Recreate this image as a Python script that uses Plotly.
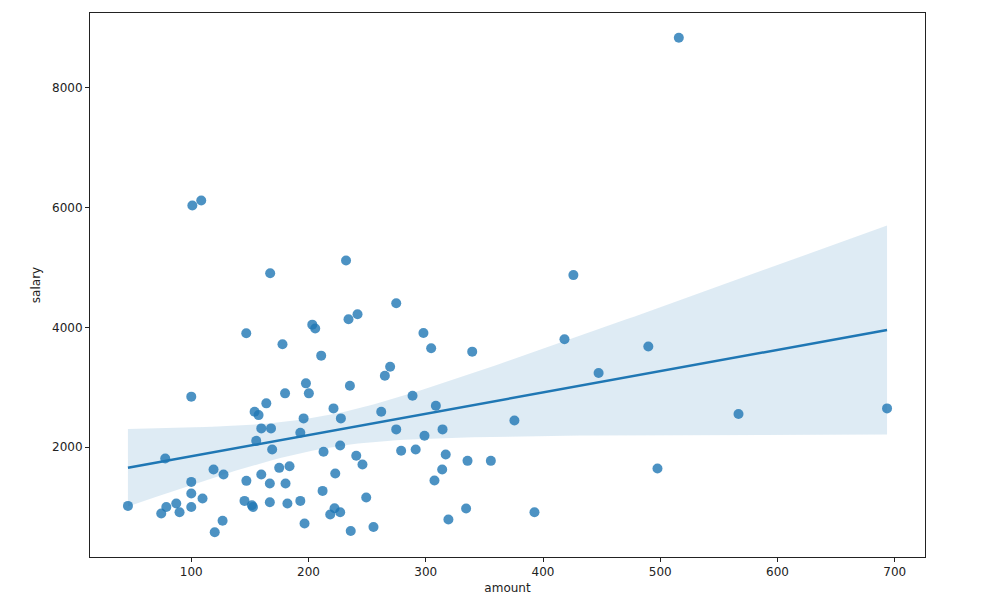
import numpy as np
import plotly.graph_objects as go

amount = [46, 74.4, 78.7, 77.8, 87.2, 90, 100, 100, 100, 100, 100.9, 108.5, 109.6,
          119, 120, 126.7, 127.5, 145.4, 146.9, 147, 151.7, 152.6, 154, 155.4, 157.4,
          159.7, 159.7, 164, 167, 167, 167.3, 168, 169, 175, 177.8, 180, 180.4, 182,
          183.8, 193, 193, 195.8, 196.6, 197.8, 200.3, 203.2, 205.7, 210.8, 212, 212.8,
          218.5, 221.3, 222.2, 222.8, 227, 227, 227.6, 232, 234.1, 235.3, 236, 240.7,
          241.8, 246, 249.2, 255.4, 262, 265.1, 269.6, 274.8, 274.8, 279, 288.7, 291.4,
          298, 298.9, 304.6, 307.4, 308.6, 314, 314.3, 317, 319.3, 334.4, 335.6, 339.6,
          355.5, 375.6, 392.7, 418.3, 425.9, 447.4, 489.8, 497.6, 515.8, 566.7, 693.4]
salary = [1019, 891, 1002, 1811, 1058, 913, 2843, 1420, 1226, 1002, 6034, 6118, 1142,
          1627, 579, 770, 1543, 1103, 3901, 1437, 1030, 1002, 2590, 2105, 2535,
          2313, 1543, 2731, 1392, 1080, 4904, 2313, 1961, 1654, 3717, 2898, 1392, 1058,
          1682, 2240, 1103, 2480, 725, 3065, 2898, 4045, 3980, 3527, 1270, 1922,
          875, 2647, 980, 1560, 2028, 913, 2480, 5115, 4135, 3025, 600, 1855,
          4218, 1710, 1159, 667, 2590, 3193, 3343, 4402, 2296, 1939, 2859, 1961,
          3906, 2189, 3650, 1443, 2691, 1627, 2296, 1877, 791, 975, 1771, 3594,
          1771, 2446, 914, 3801, 4872, 3237, 3679, 1643, 8834, 2552, 2647]
x_ticks = [100, 200, 300, 400, 500, 600, 700]
y_ticks = [2000, 4000, 6000, 8000]

x = np.array(amount, dtype=float)
y = np.array(salary, dtype=float)
n = len(x)
X = np.column_stack([np.ones(n), x])
XtX_inv = np.linalg.inv(X.T @ X)
beta = XtX_inv @ X.T @ y
resid = y - X @ beta
h = np.einsum("ij,jk,ik->i", X, XtX_inv, X)
# HC3 robust covariance of the coefficients
meat = X.T @ (X * (resid ** 2 / (1 - h) ** 2)[:, None])
cov = XtX_inv @ meat @ XtX_inv
grid = np.linspace(x.min(), x.max(), 100)
G = np.column_stack([np.ones_like(grid), grid])
fit = G @ beta
se = np.sqrt(np.einsum("ij,jk,ik->i", G, cov, G))
t = 1.985
upper = fit + t * se
lower = fit - t * se

C0 = "#1f77b4"
fig = go.Figure()
fig.add_trace(go.Scatter(x=np.concatenate([grid, grid[::-1]]),
                         y=np.concatenate([upper, lower[::-1]]),
                         fill="toself", fillcolor="rgba(31,119,180,0.15)",
                         line=dict(width=0), mode="lines", hoverinfo="skip",
                         showlegend=False))
fig.add_trace(go.Scatter(x=x, y=y, mode="markers",
                         marker=dict(color=C0, opacity=0.8, size=10, line=dict(width=0)),
                         showlegend=False))
fig.add_trace(go.Scatter(x=grid, y=fit, mode="lines",
                         line=dict(color=C0, width=2.5), showlegend=False))

xspan = x.max() - x.min()
yspan = y.max() - y.min()
font = dict(family="DejaVu Sans", size=12, color="#222")
fig.update_layout(
    width=996, height=607,
    margin=dict(l=90, r=71, t=13, b=50),
    plot_bgcolor="white", paper_bgcolor="white",
    font=font,
    xaxis=dict(range=[x.min() - 0.05 * xspan, x.max() + 0.05 * xspan],
               tickvals=x_ticks, ticks="outside", ticklen=4, tickcolor="#222",
               showline=True, linecolor="#222", linewidth=1, mirror=True,
               showgrid=False, zeroline=False,
               title=dict(text="amount", standoff=5, font=font)),
    yaxis=dict(range=[y.min() - 0.05 * yspan, y.max() + 0.05 * yspan],
               tickvals=y_ticks, ticks="outside", ticklen=4, tickcolor="#222",
               showline=True, linecolor="#222", linewidth=1, mirror=True,
               showgrid=False, zeroline=False,
               title=dict(text="salary", standoff=8, font=font)),
)
fig.write_html("out.html")
